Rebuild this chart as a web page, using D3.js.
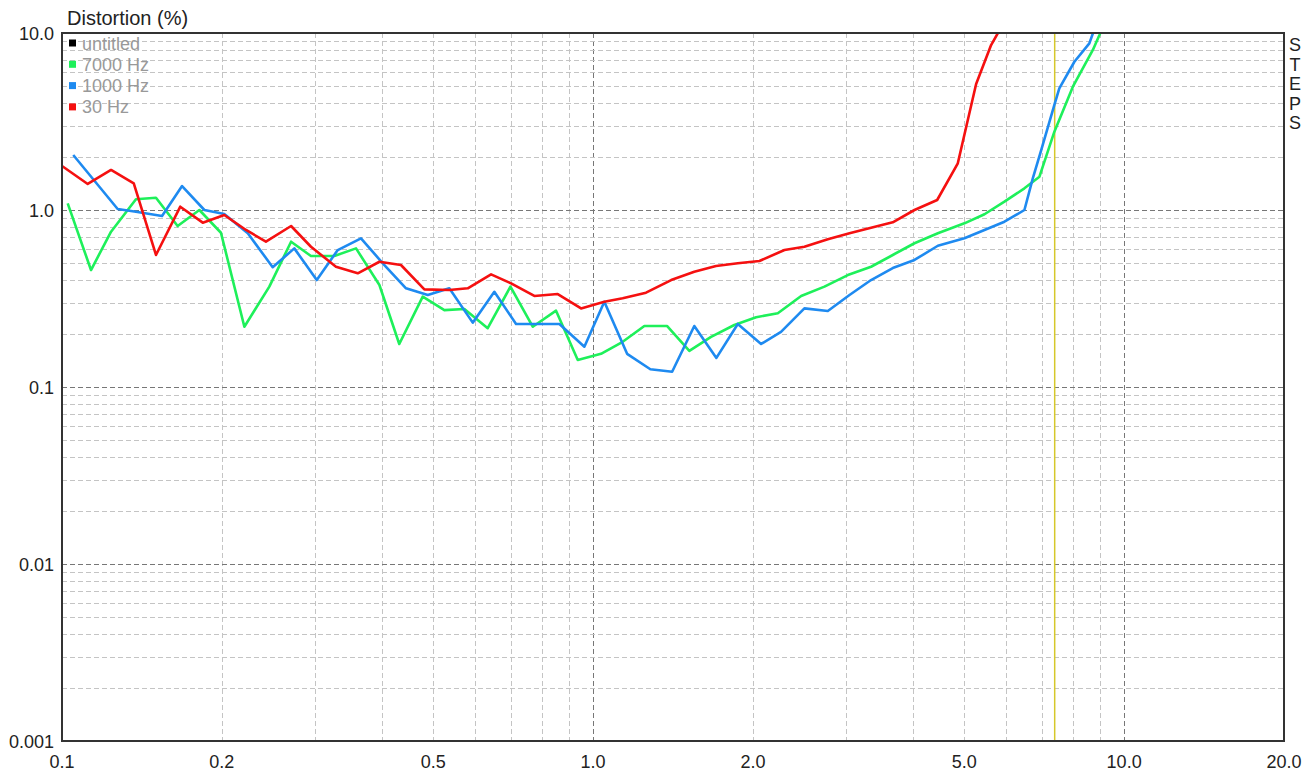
<!DOCTYPE html>
<html>
<head>
<meta charset="utf-8">
<script src="https://cdn.jsdelivr.net/npm/d3@7"></script>
<style>
  body { margin: 0; background: #fff; }
  svg { display: block; font-family: "Liberation Sans", Arial, sans-serif; }
</style>
</head>
<body>
<svg id="svg" width="1315" height="778"></svg>
<script>
const w = 1315;
const h = 778;
const plotLeft = 62, plotRight = 1284, plotTop = 33, plotBottom = 741;

// 7000 Hz sweep (voltage Vrms, distortion %)
const volts7000 = [0.1025, 0.1134, 0.1237, 0.1378, 0.1503, 0.1651, 0.1814, 0.1992, 0.2205, 0.2457,
  0.270, 0.2943, 0.3257, 0.3578, 0.396, 0.4316, 0.4778, 0.5248, 0.5723, 0.6333,
  0.6989, 0.7698, 0.8517, 0.9358, 1.035, 1.137, 1.249, 1.379, 1.518, 1.668,
  1.845, 2.028, 2.228, 2.465, 2.727, 3.018, 3.338, 3.667, 4.029, 4.459,
  5.003, 5.458, 5.951, 6.49, 6.927, 7.39, 8.007, 8.732, 8.985, 9.08];
const thd7000 = [1.091, 0.458, 0.754, 1.149, 1.173, 0.812, 1.0, 0.744, 0.219, 0.369,
  0.662, 0.550, 0.550, 0.607, 0.377, 0.175, 0.324, 0.272, 0.276, 0.215,
  0.369, 0.219, 0.270, 0.142, 0.154, 0.180, 0.221, 0.221, 0.160, 0.192,
  0.224, 0.248, 0.261, 0.327, 0.369, 0.429, 0.478, 0.557, 0.649, 0.739,
  0.841, 0.946, 1.114, 1.326, 1.542, 2.77, 4.97, 8.02, 9.74, 10.6];

// 1000 Hz sweep
const volts1000 = [0.1050, 0.1273, 0.1378, 0.1543, 0.1683, 0.1854, 0.2021, 0.2238, 0.2493, 0.2738,
  0.3018, 0.3305, 0.3656, 0.4018, 0.4444, 0.4884, 0.5362, 0.5935, 0.6518, 0.7161,
  0.787, 0.8641, 0.963, 1.050, 1.159, 1.282, 1.409, 1.551, 1.707, 1.873,
  2.072, 2.259, 2.500, 2.767, 3.040, 3.338, 3.667, 4.029, 4.459, 5.003,
  5.458, 5.951, 6.49, 6.73, 6.98, 7.39, 7.55, 8.06, 8.60, 8.80];
const thd1000 = [2.045, 1.013, 0.978, 0.925, 1.366, 1.0, 0.949, 0.739, 0.475, 0.607,
  0.402, 0.594, 0.692, 0.500, 0.361, 0.331, 0.361, 0.231, 0.345, 0.227,
  0.227, 0.227, 0.169, 0.303, 0.154, 0.126, 0.122, 0.221, 0.146, 0.227,
  0.175, 0.205, 0.278, 0.269, 0.331, 0.402, 0.470, 0.522, 0.628, 0.692,
  0.771, 0.859, 1.0, 1.51, 2.18, 3.92, 4.87, 6.88, 8.74, 10.6];

// 30 Hz sweep
const volts30 = [0.100, 0.1118, 0.1237, 0.1365, 0.1503, 0.167, 0.1841, 0.2021, 0.2221, 0.2421,
  0.270, 0.2943, 0.328, 0.3605, 0.396, 0.4348, 0.4812, 0.5362, 0.5808, 0.6426,
  0.7009, 0.7752, 0.858, 0.9493, 1.050, 1.137, 1.258, 1.403, 1.551, 1.704,
  1.873, 2.057, 2.293, 2.500, 2.767, 3.040, 3.338, 3.667, 4.029, 4.446,
  4.862, 5.264, 5.617, 5.85];
const thd30 = [1.773, 1.403, 1.683, 1.415, 0.557, 1.044, 0.848, 0.937, 0.771, 0.662,
  0.812, 0.620, 0.478, 0.439, 0.510, 0.489, 0.356, 0.353, 0.361, 0.433,
  0.385, 0.327, 0.335, 0.278, 0.303, 0.317, 0.341, 0.402, 0.448, 0.483,
  0.500, 0.515, 0.594, 0.620, 0.683, 0.739, 0.794, 0.852, 1.0, 1.139,
  1.836, 5.15, 8.55, 10.6];

const seriesNames = ["untitled", "7000 Hz", "1000 Hz", "30 Hz"];
const seriesColors = ["#000000", "#1ef05a", "#1e8af0", "#f51010"];

const xTickValues = [0.1, 0.2, 0.5, 1, 2, 5, 10, 20];
const xTickLabels = ["0.1", "0.2", "0.5", "1.0", "2.0", "5.0", "10.0", "20.0"];
const yTickValues = [10, 1, 0.1, 0.01, 0.001];
const yTickLabels = ["10.0", "1.0", "0.1", "0.01", "0.001"];
const cursorVolts = 7.4;

const svg = d3.select("#svg");
svg.append("rect").attr("width", w).attr("height", h).attr("fill", "#fff");

const xScale = d3.scaleLog().domain([0.1, 20]).range([plotLeft, plotRight]);
const yScale = d3.scaleLog().domain([0.001, 10]).range([plotBottom, plotTop]);

svg.append("clipPath").attr("id", "plot-area")
  .append("rect")
  .attr("x", plotLeft).attr("y", plotTop)
  .attr("width", plotRight - plotLeft).attr("height", plotBottom - plotTop);

// grid lines (1..9 per decade)
const xGrid = [];
[0.1, 1, 10].forEach((d) => { for (let k = 1; k <= 9; k++) xGrid.push(k * d); });
const yGrid = [];
[0.001, 0.01, 0.1, 1].forEach((d) => { for (let k = 1; k <= 9; k++) yGrid.push(k * d); });

const isMajor = (v) => Math.abs(Math.log10(v) - Math.round(Math.log10(v))) < 1e-6;

const grid = svg.append("g");
grid.selectAll(".vg")
  .data(xGrid.filter((v) => v > 0.1 * 1.0001 && v < 20 * 0.999))
  .join("line")
  .attr("x1", (d) => Math.round(xScale(d)) + 0.5)
  .attr("x2", (d) => Math.round(xScale(d)) + 0.5)
  .attr("y1", plotTop).attr("y2", plotBottom)
  .attr("stroke", (d) => (isMajor(d) ? "#777" : "#c4c4c4"))
  .attr("stroke-width", 1)
  .attr("stroke-dasharray", "5,3");

grid.selectAll(".hg")
  .data(yGrid.filter((v) => v > 0.001 * 1.0001 && v < 10 * 0.999))
  .join("line")
  .attr("x1", plotLeft).attr("x2", plotRight)
  .attr("y1", (d) => Math.round(yScale(d)) + 0.5)
  .attr("y2", (d) => Math.round(yScale(d)) + 0.5)
  .attr("stroke", (d) => (isMajor(d) ? "#777" : "#c4c4c4"))
  .attr("stroke-width", 1)
  .attr("stroke-dasharray", "5,3");

// cursor
svg.append("line")
  .attr("x1", xScale(cursorVolts)).attr("x2", xScale(cursorVolts))
  .attr("y1", plotTop).attr("y2", plotBottom)
  .attr("stroke", "#d6c82a")
  .attr("stroke-width", 1.5);

// series
const lineFunc = d3.line()
  .x((d) => xScale(d[0]))
  .y((d) => yScale(d[1]));

const series = [
  { v: volts7000, t: thd7000, color: seriesColors[1] },
  { v: volts1000, t: thd1000, color: seriesColors[2] },
  { v: volts30, t: thd30, color: seriesColors[3] },
];

series.forEach((s) => {
  svg.append("path")
    .datum(s.v.map((v, i) => [v, s.t[i]]))
    .attr("clip-path", "url(#plot-area)")
    .attr("fill", "none")
    .attr("stroke", s.color)
    .attr("stroke-width", 2.6)
    .attr("stroke-linejoin", "round")
    .attr("d", lineFunc);
});

// frame
svg.append("rect")
  .attr("x", plotLeft).attr("y", plotTop)
  .attr("width", plotRight - plotLeft).attr("height", plotBottom - plotTop)
  .attr("fill", "none")
  .attr("stroke", "#333")
  .attr("stroke-width", 2);

// axis labels
svg.selectAll(".ylab")
  .data(yTickValues)
  .join("text")
  .attr("x", 54)
  .attr("y", (d) => yScale(d) + 7)
  .attr("text-anchor", "end")
  .attr("font-size", 18)
  .attr("fill", "#222")
  .text((d, i) => yTickLabels[i]);

svg.selectAll(".xlab")
  .data(xTickValues)
  .join("text")
  .attr("x", (d) => xScale(d))
  .attr("y", 768)
  .attr("text-anchor", "middle")
  .attr("font-size", 18)
  .attr("fill", "#222")
  .text((d, i) => xTickLabels[i]);

svg.append("text")
  .attr("x", 67).attr("y", 25)
  .attr("font-size", 20)
  .attr("fill", "#222")
  .text("Distortion (%)");

// bottom status (cut off by the window edge)
svg.append("text")
  .attr("x", 62).attr("y", 791)
  .attr("font-size", 18)
  .attr("fill", "#222")
  .text("Cur: 7.4V, THD 37.7%");

svg.append("text")
  .attr("x", 1151).attr("y", 791)
  .attr("font-size", 18)
  .attr("fill", "#222")
  .text("Voltage (Vrms)");

// STEPS label
svg.selectAll(".steps")
  .data("STEPS".split(""))
  .join("text")
  .attr("x", 1295)
  .attr("y", (d, i) => 51 + i * 19.5)
  .attr("text-anchor", "middle")
  .attr("font-size", 18)
  .attr("fill", "#222")
  .text((d) => d);

// legend
const legend = svg.append("g");
seriesNames.forEach((name, i) => {
  const cy = 43 + i * 21.3;
  legend.append("rect")
    .attr("x", 69).attr("y", cy - 3.5)
    .attr("width", 7).attr("height", 7)
    .attr("fill", seriesColors[i]);
  legend.append("text")
    .attr("x", 82).attr("y", cy + 6.5)
    .attr("font-size", 18)
    .attr("fill", "#999")
    .text(name);
});
</script>
</body>
</html>
